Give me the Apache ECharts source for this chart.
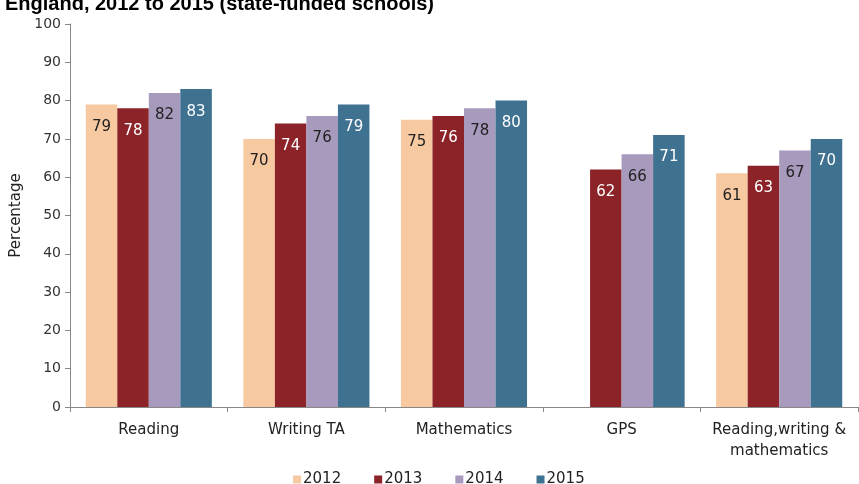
<!DOCTYPE html>
<html><head><meta charset="utf-8">
<script src="https://cdn.jsdelivr.net/npm/echarts@6/dist/echarts.min.js"></script>
<style>html,body{margin:0;padding:0;background:#fff}#c{width:859px;height:484px}</style>
</head><body><div id="c"></div>
<script>
var categories = ['Reading', 'Writing TA', 'Mathematics', 'GPS', 'Reading,writing &\nmathematics'];
var years = ['2012', '2013', '2014', '2015'];
var v2012 = [79, 70, 75, null, 61];
var v2013 = [78, 74, 76, 62, 63];
var v2014 = [82, 76, 78, 66, 67];
var v2015 = [83, 79, 80, 71, 70];
var yTicks = [0, 10, 20, 30, 40, 50, 60, 70, 80, 90, 100];
var colors = ['#F6C9A0', '#8B2328', '#A79ABD', '#3F7191'];
var labelColors = ['#222', '#fff', '#222', '#fff'];
var values = [v2012, v2013, v2014, v2015];
var FONT = 'DejaVu Sans';

var chart = echarts.init(document.getElementById('c'), null, {renderer: 'canvas'});
chart.setOption({
  animation: false,
  textStyle: {fontFamily: FONT},
  title: {
    text: 'England, 2012 to 2015 (state-funded schools)',
    left: 0, top: -11,
    textStyle: {fontFamily: 'Liberation Sans', fontWeight: 'bold', fontSize: 20, color: '#000'}
  },
  grid: {left: 70, right: 1, top: 24, bottom: 77, containLabel: false},
  legend: {
    top: 467, left: 288,
    itemWidth: 8, itemHeight: 8, itemGap: 33,
    icon: 'rect',
    textStyle: {fontFamily: FONT, fontSize: 15, color: '#222', padding: [0, 0, 0, -3]},
    data: years
  },
  xAxis: {
    type: 'category', data: categories,
    axisLine: {lineStyle: {color: '#888', width: 1}},
    axisTick: {show: true, length: 5, alignWithLabel: false, lineStyle: {color: '#888'}},
    axisLabel: {fontFamily: FONT, fontSize: 15, color: '#222', margin: 13, lineHeight: 21, interval: 0}
  },
  yAxis: {
    type: 'value', min: yTicks[0], max: yTicks[yTicks.length - 1], interval: 10,
    name: 'Percentage', nameLocation: 'middle', nameGap: 43, nameRotate: 90,
    nameTextStyle: {fontFamily: FONT, fontSize: 15, color: '#222'},
    axisLine: {show: true, lineStyle: {color: '#888'}},
    axisTick: {show: true, inside: false, length: 5, lineStyle: {color: '#888'}},
    axisLabel: {fontFamily: FONT, fontSize: 14, color: '#333', margin: 9},
    splitLine: {show: false}
  },
  series: values.map(function (arr, i) {
    return {
      name: years[i], type: 'bar', data: arr,
      barGap: '0%', barCategoryGap: '20%',
      itemStyle: {color: colors[i]},
      label: {
        show: true, position: 'insideTop', distance: 15,
        fontFamily: FONT, fontSize: 15, color: labelColors[i]
      }
    };
  })
});
</script></body></html>
